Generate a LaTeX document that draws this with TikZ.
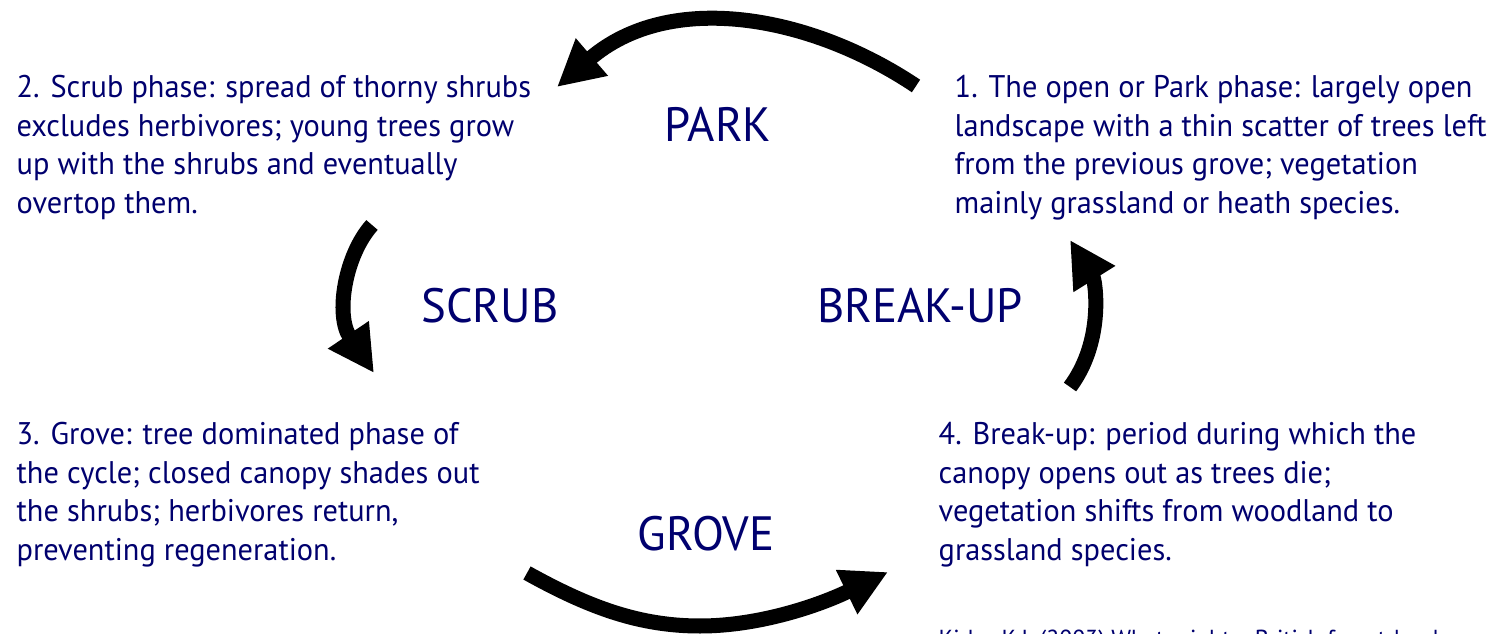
\documentclass[tikz,border=0pt]{standalone}
\usepackage{fontspec}
\setmainfont{PT Sans}[FakeStretch=0.97]
\usetikzlibrary{arrows.meta}
\definecolor{navytext}{RGB}{0,0,110}
\begin{document}
\begin{tikzpicture}[x=0.01cm,y=-0.01cm,
    phasetext/.style={anchor=base west,inner sep=0pt,align=left,text=navytext,font=\fontsize{8.9}{10.95}\selectfont},
    stagename/.style={anchor=base,inner sep=0pt,text=navytext,font=\fontsize{13.7}{16}\selectfont},
    cyclearrow/.style={line width=0.15cm,-{Triangle[length=0.46cm,width=0.46cm]}}]
    \useasboundingbox (0,0) rectangle (1494,634);
    \clip (0,0) rectangle (1494,634);
    \node [phasetext] (park text) at (954,213.5) {1. The open or Park phase: largely open\\landscape with a thin scatter of trees left\\from the previous grove; vegetation\\mainly grassland or heath species.};
    \node [phasetext] (scrub text) at (16,213.5) {2. Scrub phase: spread of thorny shrubs\\excludes herbivores; young trees grow\\up with the shrubs and eventually\\overtop them.};
    \node [phasetext] (grove text) at (16,560.5) {3. Grove: tree dominated phase of\\the cycle; closed canopy shades out\\the shrubs; herbivores return,\\preventing regeneration.};
    \node [phasetext] (breakup text) at (938,560.5) {4. Break-up: period during which the\\canopy opens out as trees die;\\vegetation shifts from woodland to\\grassland species.};
    \node [stagename] (park) at (718,142) {PARK};
    \node [stagename] (scrub) at (490,323) {SCRUB};
    \node [stagename] (breakup) at (920,323) {BREAK-UP};
    \node [stagename] (grove) at (706,550) {GROVE};
    \node [phasetext,font=\fontsize{7}{8}\selectfont] (source) at (938,647) {Kirby, K.J. (2003) What might a British forest-landscape driven by large herbivores look like?};
    \coordinate (park out) at (916,86);
    \coordinate (scrub in) at (557,87);
    \coordinate (scrub out) at (372,225);
    \coordinate (grove in) at (374,373);
    \coordinate (grove out) at (527,573);
    \coordinate (grove low) at (700,626);
    \coordinate (breakup in) at (888,572);
    \coordinate (breakup out) at (1070,387);
    \coordinate (park in) at (1070,240);
    \draw [cyclearrow] (park out) .. controls (810,15) and (670,-10) .. (scrub in);
    \draw [cyclearrow] (scrub out) .. controls (345,255) and (335,315) .. (grove in);
    \draw [cyclearrow] (grove out) .. controls (590,608) and (640,626) .. (grove low)
        .. controls (760,626) and (820,605) .. (breakup in);
    \draw [cyclearrow] (breakup out) .. controls (1105,340) and (1095,280) .. (park in);
\end{tikzpicture}
\end{document}
